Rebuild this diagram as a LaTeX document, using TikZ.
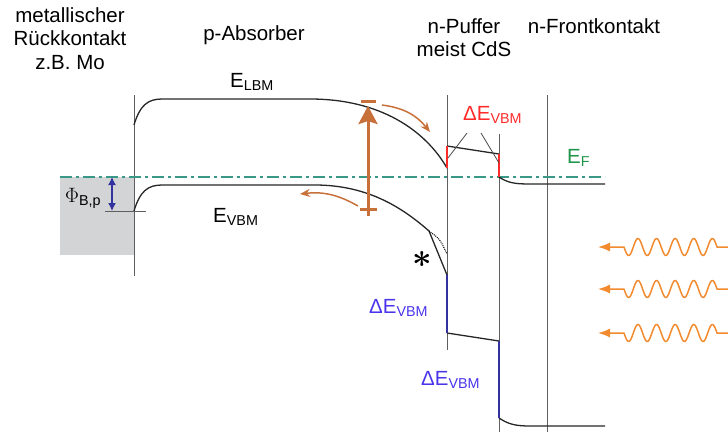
\documentclass[tikz,border=0pt]{standalone}
\usepackage{fontspec}
\setmainfont{Liberation Sans}
\usepackage{tikz}
\usetikzlibrary{arrows.meta, calc}
\definecolor{colTeal}    {HTML}{3A9886}
\definecolor{colGreen}   {HTML}{1E9448}
\definecolor{colCopper}  {HTML}{C8703A}
\definecolor{colOrange}  {HTML}{F28A2E}
\definecolor{colRed}     {HTML}{FF2A2A}
\definecolor{colViolet}  {HTML}{4A35EC}
\definecolor{colNavy}    {HTML}{33339F}
\definecolor{colGrayBox} {HTML}{D3D4D6}
\definecolor{colGrayLine}{HTML}{5F5F5F}
\tikzset{
  lbl/.style={inner sep=0pt, font=\fontsize{20.5}{23.5}\selectfont},
  layerline/.style={draw=colGrayLine, line width=0.9pt},
  band/.style={draw=black!85, line width=1.3pt},
  fermi/.style={
    draw=colTeal, line width=1.7pt,
    dash pattern=on 12pt off 4pt on 3pt off 4pt
  },
  cboff/.style={draw=colRed, line width=2.6pt},
  vboff/.style={draw=colNavy, line width=2.6pt},
  pointer/.style={draw=black!70, line width=0.8pt},
  % carriers and light
  genarr/.style={
    -{Stealth[length=18pt,width=19pt,inset=3pt]},
    draw=colCopper, line width=3pt
  },
  driftarr/.style={
    -{Stealth[length=10pt,width=8pt]},
    draw=colCopper, line width=1.5pt
  },
  charge/.style={draw=colCopper, line width=3pt},
  photon/.style={
    -{Latex[length=12pt,width=9pt]},
    draw=colOrange, line width=1.5pt, line join=round
  },
  barrier/.style={
    {Latex[length=8pt,width=8pt]}-{Latex[length=8pt,width=8pt]},
    draw=colNavy, line width=1.4pt
  }
}

\begin{document}
\begin{tikzpicture}[x=1pt, y=-1pt]
  \useasboundingbox (0,0) rectangle (728,432);

  % metal back contact
  \fill[colGrayBox] (60,177) rectangle (134,255);

  % layer boundaries
  \coordinate (bcTop)  at (134,95);  \coordinate (bcBot)  at (134,276);
  \coordinate (bufTop) at (447,95);  \coordinate (bufBot) at (447,350);
  \coordinate (frTop)  at (499,134); \coordinate (frBot)  at (499,432);
  \coordinate (tcoTop) at (547,95);  \coordinate (tcoBot) at (547,432);
  \draw[layerline] (bcTop) -- (bcBot);
  \draw[layerline] (bufTop) -- (bufBot);
  \draw[layerline] (frTop) -- (frBot);
  \draw[layerline] (tcoTop) -- (tcoBot);

  % Fermi level
  \coordinate (efL) at (60,177); \coordinate (efR) at (605,177);
  \draw[fermi] (efL) -- (efR);

  % conduction band
  \draw[band] (134,125) .. controls (140,105) and (148,99) .. (162,99)
    -- (310,99) .. controls (380,99) and (425,130) .. (447,168);
  \draw[band] (447,146) -- (499,154);
  \draw[band] (499,177) .. controls (508,183) and (515,184) .. (530,184) -- (605,184);
  \draw[cboff] (447,146) -- (447,168);
  \draw[cboff] (499,154) -- (499,177);

  % valence band
  \draw[band] (134,211) .. controls (140,191) and (148,185) .. (162,185)
    -- (315,185) .. controls (370,185) and (405,210) .. (429,231) -- (447,275);
  \draw[densely dotted, line width=1pt] (429,231) .. controls (440,239) .. (447,254);
  \draw[band] (447,333) -- (499,341);
  \draw[band] (499,418) .. controls (508,424) and (515,426) .. (530,426) -- (605,426);
  \draw[vboff] (447,275) -- (447,333);
  \draw[vboff] (499,341) -- (499,418);

  % barrier height
  \coordinate (phiTop) at (112,177); \coordinate (phiBot) at (112,211);
  \draw[draw=colGrayLine, line width=1pt] (105,211) -- (146,211);
  \draw[barrier] (phiTop) -- (phiBot);

  % electron-hole pair
  \coordinate (hole) at (368,202); \coordinate (elec) at (368,106);
  \draw[charge] (360,209) -- (377,209) (368,202) -- (368,216);
  \draw[charge] (361,101) -- (376,101);
  \draw[genarr] (hole) -- (elec);
  \coordinate (eFrom) at (382,105); \coordinate (eTo) at (430,132);
  \draw[driftarr] (eFrom) to[bend left=22] (eTo);
  \coordinate (hFrom) at (358,206); \coordinate (hTo) at (300,194);
  \draw[driftarr] (hFrom) to[bend right=18] (hTo);

  % offset pointers
  \draw[pointer] (467,133) -- (448,158);
  \draw[pointer] (481,133) -- (499,163);

  % light
  \foreach \yy/\nm in {247/a, 289/b, 333/c} {
    \coordinate (lightS\nm) at (728,\yy);
    \coordinate (lightE\nm) at (598,\yy);
    \draw[photon] (lightS\nm) -- (717,\yy)
      -- plot[domain=0:93, samples=120, smooth] ({717-\x}, {\yy-8.5*sin(\x*19.3548)})
      -- (lightE\nm);
  }

  % labels
  \node[lbl, anchor=north, align=center] (tMetal) at (70,7)
    {metallischer\\Rückkontakt\\z.B. Mo};
  \node[lbl, anchor=base] (tAbs) at (254,40) {p-Absorber};
  \node[lbl, anchor=north, align=center] (tBuf) at (464,18) {n-Puffer\\meist CdS};
  \node[lbl, anchor=base] (tFront) at (594,33) {n-Frontkontakt};
  \node[lbl, anchor=base west] (tLBM) at (230,87) {E\textsubscript{LBM}};
  \node[lbl, anchor=base west] (tVBM) at (213,222) {E\textsubscript{VBM}};
  \node[lbl, anchor=base west, text=colGreen] (tEF) at (567,163) {E\textsubscript{F}};
  \node[lbl, anchor=base west, text=colRed] (tdCB) at (463,120) {ΔE\textsubscript{VBM}};
  \node[lbl, anchor=base west, text=colViolet] (tdVB1) at (369,313) {ΔE\textsubscript{VBM}};
  \node[lbl, anchor=base west, text=colViolet] (tdVB2) at (421,385) {ΔE\textsubscript{VBM}};
  \node[lbl, anchor=base west] (tPhi) at (65,202) {$\Phi$\textsubscript{B,p}};
  \node[inner sep=0pt] (tStar) at (422,259) {\scalebox{3.4}{\boldmath$\ast$}};
\end{tikzpicture}
\end{document}
